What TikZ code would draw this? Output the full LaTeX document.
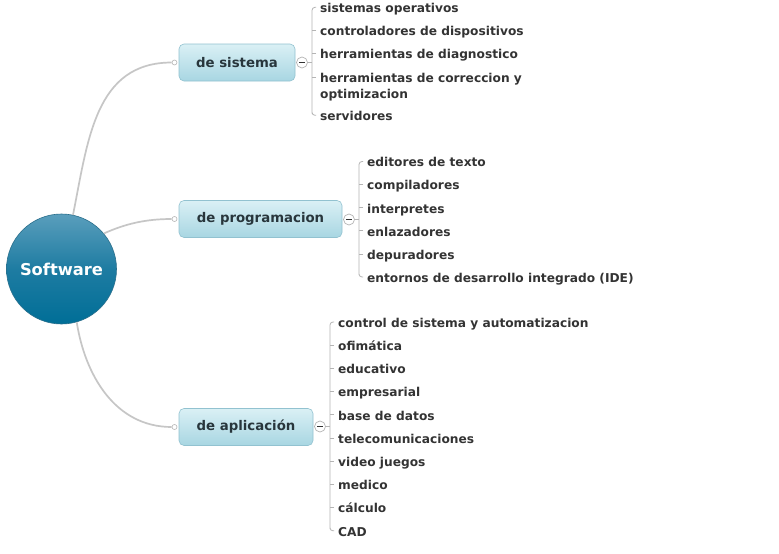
\documentclass[tikz,border=0pt]{standalone}
\usepackage{fontspec}
\setmainfont{DejaVu Sans}
\usetikzlibrary{calc}
\definecolor{edgec}{HTML}{C6C6C6}
\definecolor{brc}{HTML}{B4B4B4}
\definecolor{itemc}{HTML}{333333}
\definecolor{catc}{HTML}{28363C}
\definecolor{boxtop}{HTML}{DAF0F5}
\definecolor{boxbot}{HTML}{A8D6E2}
\definecolor{boxdraw}{HTML}{92C2D0}
\definecolor{roottop}{HTML}{5A9EBC}
\definecolor{rootmid}{HTML}{1E7CA2}
\definecolor{rootbot}{HTML}{006E97}
\definecolor{rootdraw}{HTML}{2A6F8C}
\begin{document}
\begin{tikzpicture}[x=1pt,y=-1pt,
  root/.style={circle,minimum size=110pt,inner sep=0pt,draw=rootdraw,line width=0.6pt,
    top color=roottop,bottom color=rootbot,middle color=rootmid,
    text=white,font=\fontsize{16.3}{18}\selectfont\bfseries},
  cat/.style={rectangle,rounded corners=5pt,draw=boxdraw,line width=0.6pt,
    top color=boxtop,bottom color=boxbot,minimum height=37pt,inner sep=0pt,
    text=catc,font=\fontsize{13.3}{16}\selectfont\bfseries},
  item/.style={anchor=west,inner xsep=4pt,inner ysep=0pt,text height=13pt,text depth=2.4pt,
    text=itemc,font=\fontsize{12.2}{16}\selectfont\bfseries},
  itemtwo/.style={anchor=north west,inner xsep=4pt,inner ysep=0pt,align=left,
    text=itemc,font=\fontsize{12.2}{16}\selectfont\bfseries},
  dotc/.style={circle,draw=brc,fill=white,minimum size=5pt,inner sep=0pt,line width=0.6pt},
  minusc/.style={circle,draw=brc,fill=white,minimum size=11pt,inner sep=0pt,line width=0.7pt,
    path picture={\draw[line width=1.3pt,color=itemc]
      ([xshift=-2.6pt]path picture bounding box.center) -- ([xshift=2.6pt]path picture bounding box.center);}},
  edge/.style={draw=edgec,line width=1.7pt},
  br/.style={draw=brc,line width=0.8pt,rounded corners=3pt}
]
\useasboundingbox[fill=white] (0,0) rectangle (779,554);

% root
\node[root] (sw) at (61.5,269) {Software};

% categories
\node[cat,minimum width=116pt] (sys) at (237,62.5) {de sistema};
\node[cat,minimum width=163pt] (prog) at (260.5,219) {de programacion};
\node[cat,minimum width=134pt] (app) at (246,427) {de aplicación};

\node[dotc] (d1) at (174.5,62.5) {};
\node[dotc] (d2) at (174.5,219) {};
\node[dotc] (d3) at (174.5,427) {};

\draw[edge] (sw.78) .. controls (88,140) and (95,62.5) .. (d1.west);
\draw[edge] (sw.40) .. controls (125,224) and (145,219) .. (d2.west);
\draw[edge] (sw.-74) .. controls (85,375) and (115,427) .. (d3.west);

\node[minusc] (m1) at (302,62.5) {};
\node[minusc] (m2) at (349,219.5) {};
\node[minusc] (m3) at (320,426.5) {};

% group 1
\node[item] (s1) at (316,7.3) {sistemas operativos};
\node[item] (s2) at (316,30.3) {controladores de dispositivos};
\node[item] (s3) at (316,53.5) {herramientas de diagnostico};
\node[itemtwo] (s4) at (316,73) {herramientas de correccion y\\optimizacion};
\node[item] (s5) at (316,115.3) {servidores};
\coordinate (b1) at ($(s1.west)+(-4,0)$);
\draw[br] (s1.west) -| ($(s5.west)+(-4,0)$) |- (s5.west);
\draw[br] (s2.west) -- ++(-4,0);
\draw[br] (s3.west) -- ++(-4,0);
\draw[br] ($(s4.north west)+(0,4)$) -- ++(-4,0);
\draw[br] (m1.east) -- (m1.east -| b1);

% group 2
\node[item] (p1) at (363,161.5) {editores de texto};
\node[item] (p2) at (363,184.6) {compiladores};
\node[item] (p3) at (363,207.7) {interpretes};
\node[item] (p4) at (363,230.8) {enlazadores};
\node[item] (p5) at (363,253.9) {depuradores};
\node[item] (p6) at (363,277) {entornos de desarrollo integrado (IDE)};
\coordinate (b2) at ($(p1.west)+(-4,0)$);
\draw[br] (p1.west) -| ($(p6.west)+(-4,0)$) |- (p6.west);
\foreach \n in {p2,p3,p4,p5} \draw[br] (\n.west) -- ++(-4,0);
\draw[br] (m2.east) -- (m2.east -| b2);

% group 3
\node[item] (a1) at (334,322) {control de sistema y automatizacion};
\node[item] (a2) at (334,345.2) {ofimática};
\node[item] (a3) at (334,368.4) {educativo};
\node[item] (a4) at (334,391.6) {empresarial};
\node[item] (a5) at (334,414.8) {base de datos};
\node[item] (a6) at (334,438) {telecomunicaciones};
\node[item] (a7) at (334,461.2) {video juegos};
\node[item] (a8) at (334,484.4) {medico};
\node[item] (a9) at (334,507.6) {cálculo};
\node[item] (a10) at (334,530.8) {CAD};
\coordinate (b3) at ($(a1.west)+(-4,0)$);
\draw[br] (a1.west) -| ($(a10.west)+(-4,0)$) |- (a10.west);
\foreach \n in {a2,a3,a4,a5,a6,a7,a8,a9} \draw[br] (\n.west) -- ++(-4,0);
\draw[br] (m3.east) -- (m3.east -| b3);
\end{tikzpicture}
\end{document}
